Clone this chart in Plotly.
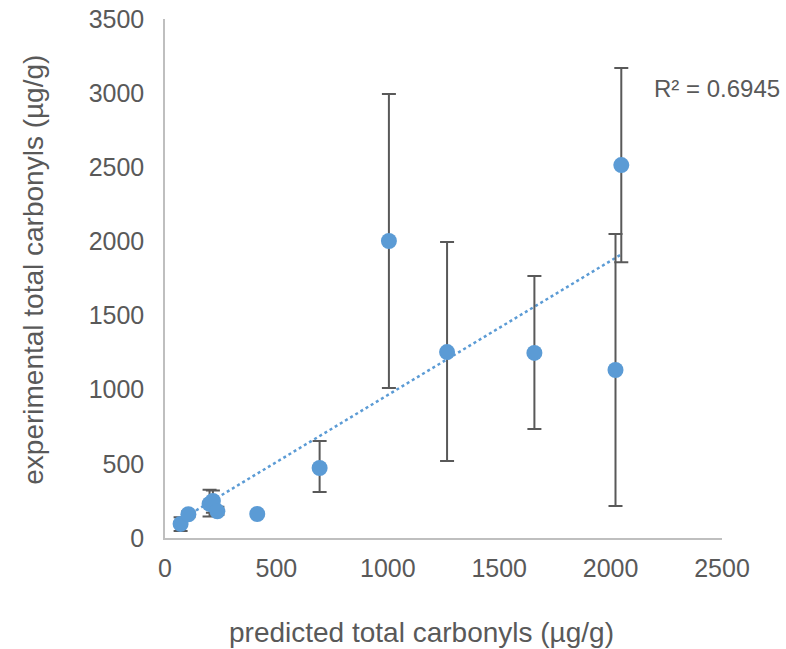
import numpy as np
import plotly.graph_objects as go

predicted = [70, 105, 200, 215, 235, 414, 694, 1005, 1266, 1658, 2022, 2048]
experimental = [95, 160, 230, 250, 180, 162, 472, 2003, 1254, 1248, 1133, 2515]
err_plus = [45, 20, 95, 70, 30, 10, 182, 991, 742, 519, 917, 655]
err_minus = [48, 20, 85, 80, 25, 10, 162, 991, 735, 513, 917, 655]

r2_label = "R² = 0.6945"
x_title = "predicted total carbonyls (µg/g)"
y_title = "experimental total carbonyls (µg/g)"

slope, intercept = np.polyfit(predicted, experimental, 1)
trend_x = [min(predicted), max(predicted)]
trend_y = [slope * v + intercept for v in trend_x]

FAM = "Liberation Sans, Arial"
GREY = "#595959"

fig = go.Figure()
fig.add_trace(go.Scatter(
    x=trend_x, y=trend_y, mode="lines",
    line=dict(color="#5B9BD5", width=2.5, dash="dot"),
    hoverinfo="skip", showlegend=False, cliponaxis=False))
fig.add_trace(go.Scatter(
    x=predicted, y=experimental, mode="markers",
    marker=dict(color="#5B9BD5", size=16),
    error_y=dict(type="data", symmetric=False, array=err_plus, arrayminus=err_minus,
                 color=GREY, thickness=2, width=7),
    showlegend=False, cliponaxis=False))

fig.add_annotation(x=0.874, y=0.867, xref="paper", yref="paper", xanchor="left", yanchor="middle",
                   text=r2_label, showarrow=False,
                   font=dict(family=FAM, size=24, color=GREY))
fig.add_annotation(x=0.46, y=-0.183, xref="paper", yref="paper", xanchor="center", yanchor="middle",
                   text=x_title, showarrow=False,
                   font=dict(family=FAM, size=28, color=GREY))
fig.add_annotation(x=-0.236, y=0.516, xref="paper", yref="paper", xanchor="center", yanchor="middle",
                   text=y_title, showarrow=False, textangle=-90,
                   font=dict(family=FAM, size=28, color=GREY))

tick_font = dict(family=FAM, size=25, color=GREY)
fig.update_layout(
    width=786, height=649,
    margin=dict(l=165, r=64, t=19, b=111),
    paper_bgcolor="white", plot_bgcolor="white",
    font=tick_font,
    xaxis=dict(range=[0, 2500], dtick=500, showgrid=False, zeroline=False,
               showline=True, linecolor="#BFBFBF", linewidth=1.5,
               ticks="", tickfont=tick_font, automargin=False, ticklabelstandoff=7),
    yaxis=dict(range=[0, 3500], dtick=500, showgrid=False, zeroline=False,
               showline=True, linecolor="#BFBFBF", linewidth=1.5,
               ticks="", tickfont=tick_font, automargin=False, ticklabelstandoff=14),
)

fig.write_html("out.html", post_script="document.body.style.margin='0px';",
               config={"displayModeBar": False})
